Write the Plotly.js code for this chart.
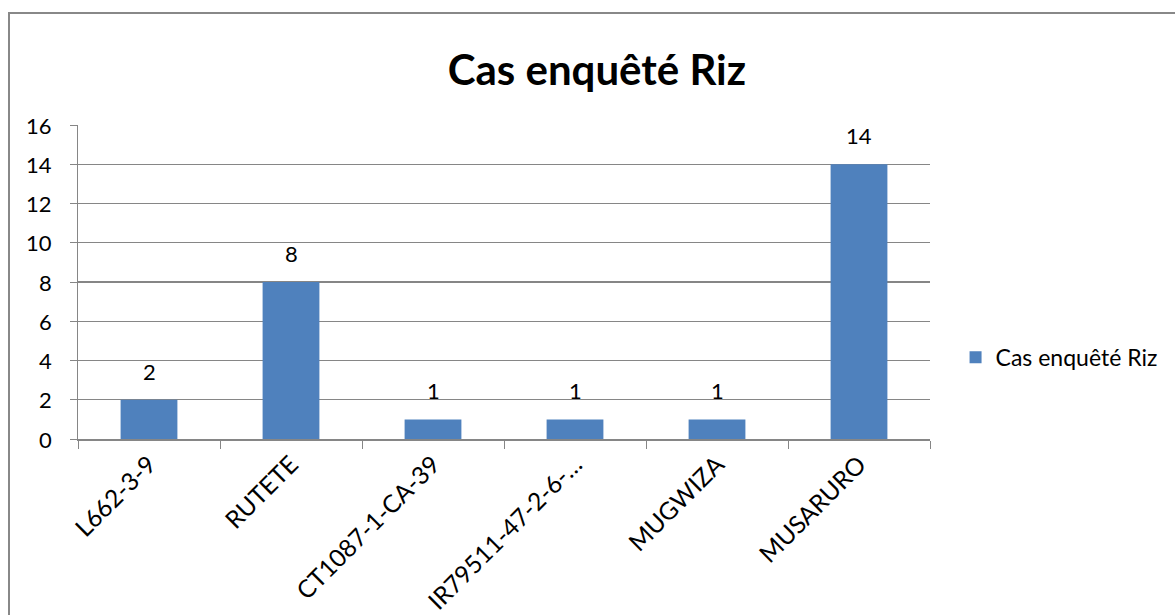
<!DOCTYPE html>
<html><head><meta charset="utf-8">
<script src="https://cdn.plot.ly/plotly-3.0.1.min.js"></script>
<style>
html,body{margin:0;padding:0;background:#fff;overflow:hidden;}
#frame{position:absolute;left:8px;top:12px;width:1300px;height:700px;border-left:2px solid #888;border-top:2px solid #888;box-sizing:border-box;}
#chart{position:absolute;left:0;top:0;width:1175px;height:615px;}
</style></head>
<body>
<div id="frame"></div>
<div id="chart"></div>
<script>
const categories = ["L662-3-9","RUTETE","CT1087-1-CA-39","IR79511-47-2-6-…","MUGWIZA","MUSARURO"];
const values = [2,8,1,1,1,14];
const seriesName = "Cas enquêté Riz";
const yTicks = [0,2,4,6,8,10,12,14,16];

const font = "Lato, 'Open Sans', sans-serif";
const labels = categories.map((c,i)=>({x:c,y:values[i],text:String(values[i]),showarrow:false,
  xref:'x',yref:'y',yanchor:'bottom',yshift:13,font:{size:22,family:font,color:'#000'}}));
const yLabels = yTicks.map(v=>({x:0,y:v,xref:'paper',yref:'y',xanchor:'right',yanchor:'middle',xshift:-24,
  text:String(v),showarrow:false,font:{size:22,family:font,color:'#000'}}));
Plotly.newPlot('chart',[{
  type:'bar', x:categories, y:values, name:seriesName,
  marker:{color:'#4f81bd'}, showlegend:true
}],{
  width:1175,height:615,
  margin:{l:78,r:245,t:125,b:176},
  paper_bgcolor:'rgba(0,0,0,0)', plot_bgcolor:'rgba(0,0,0,0)',
  bargap:0.6,
  annotations:labels.concat(yLabels),
  title:{text:'<b>Cas enquêté Riz</b>',x:0.508,xanchor:'center',y:0.885,yanchor:'middle',font:{size:42,family:font,color:'#000'}},
  xaxis:{tickangle:-45,tickfont:{size:24.5,family:font,color:'#000'},showline:true,linecolor:'#868686',linewidth:1.5,
    ticks:'outside',ticklen:8,tickcolor:'#868686',tickson:'boundaries',showgrid:false},
  yaxis:{range:[0,16],tickvals:yTicks,showticklabels:false,showline:true,linecolor:'#868686',linewidth:1.5,
    ticks:'outside',ticklen:7,tickcolor:'#868686',gridcolor:'#868686',gridwidth:1.3,zeroline:false,fixedrange:true},
  legend:{x:1.03,y:0.26,xanchor:'left',yanchor:'middle',font:{size:23,family:font,color:'#000'},itemwidth:30}
},{displayModeBar:false,staticPlot:true});
</script>
</body></html>
